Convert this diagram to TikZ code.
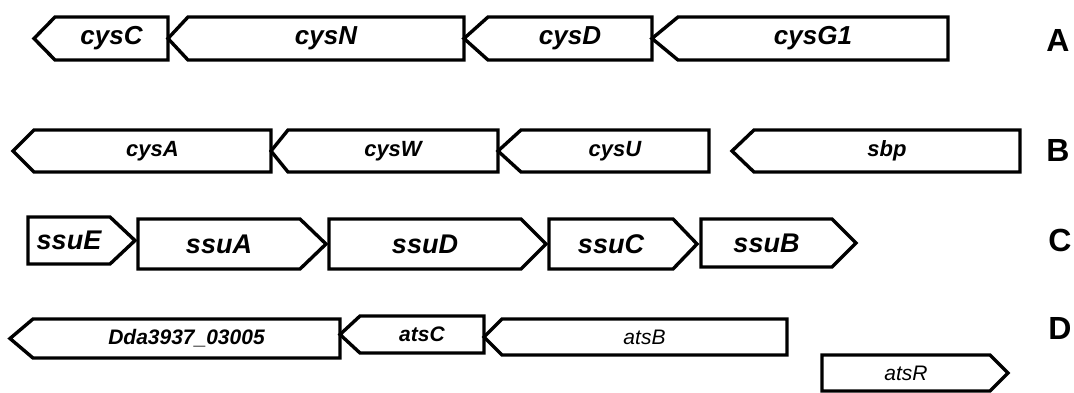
\documentclass[tikz,border=0pt]{standalone}
\usepackage{fontspec}
\setmainfont{Liberation Sans}
\usepackage{tikz}
\usetikzlibrary{positioning}

\newcommand{\genel}[7]{%
  \draw[gene] (#2,{(#5+#6)/2}) -- (#3,#5) -- (#4,#5) -- (#4,#6) -- (#3,#6) -- cycle;
  \node[genetext] (#1) at ({(#3+#4)/2},{(#5+#6)/2}) {#7};}
\newcommand{\gener}[7]{%
  \draw[gene] (#2,#5) -- (#3,#5) -- (#4,{(#5+#6)/2}) -- (#3,#6) -- (#2,#6) -- cycle;
  \node[genetext] (#1) at ({(#2+#3)/2},{(#5+#6)/2}) {#7};}

\begin{document}
\begin{tikzpicture}[
    x=1pt, y=-1pt,
    gene/.style={draw, line width=3.4pt, line join=miter},
    genetext/.style={inner sep=0pt, font=\bfseries\itshape},
    rowA/.style={genetext/.append style={font=\fontsize{26}{26}\selectfont\bfseries\itshape}},
    rowB/.style={genetext/.append style={font=\fontsize{22}{22}\selectfont\bfseries\itshape}},
    rowC/.style={genetext/.append style={font=\fontsize{27}{27}\selectfont\bfseries\itshape}},
    rowD/.style={genetext/.append style={font=\fontsize{21}{21}\selectfont\bfseries\itshape}},
    thin/.style={genetext/.append style={font=\fontsize{21}{21}\selectfont\itshape}},
    panel/.style={inner sep=0pt, font=\fontsize{32}{32}\selectfont\bfseries}
  ]
    \fill[white] (0,0) rectangle (1074,392);
    \useasboundingbox (0,0) rectangle (1074,392);

    \begin{scope}[rowA]
      \genel{cysC}{34}{55}{168}{17}{60}{cysC}
      \genel{cysN}{168}{188}{464}{17}{60}{cysN}
      \genel{cysD}{464}{488}{652}{17}{60}{cysD}
      \genel{cysG1}{652}{678}{948}{17}{60}{cysG1}
    \end{scope}

    \begin{scope}[rowB]
      \genel{cysA}{13}{34}{271}{130}{172}{cysA}
      \genel{cysW}{271}{288}{498}{130}{172}{cysW}
      \genel{cysU}{498}{521}{709}{130}{172}{cysU}
      \genel{sbp}{732}{754}{1020}{130}{172}{sbp}
    \end{scope}

    \begin{scope}[rowC]
      \gener{ssuE}{28}{110}{135}{217}{264}{ssuE}
      \gener{ssuA}{138}{300}{326}{219}{269}{ssuA}
      \gener{ssuD}{329}{521}{546}{219}{269}{ssuD}
      \gener{ssuC}{549}{673}{697}{219}{269}{ssuC}
      \gener{ssuB}{701}{832}{856}{219}{267}{ssuB}
    \end{scope}

    \begin{scope}[rowD]
      \genel{dda}{10}{33}{340}{319}{358}{Dda3937\_03005}
      \genel{atsC}{340}{360}{484}{316}{353}{atsC}
    \end{scope}
    \begin{scope}[thin]
      \genel{atsB}{484}{502}{787}{319}{355}{atsB}
      \gener{atsR}{822}{990}{1008}{355}{391}{atsR}
    \end{scope}

    \node[panel] (pA) at (1058,40) {A};
    \node[panel] (pB) at (1058,150) {B};
    \node[panel] (pC) at (1060,240) {C};
    \node[panel] (pD) at (1060,328) {D};
  \end{tikzpicture}
\end{document}
